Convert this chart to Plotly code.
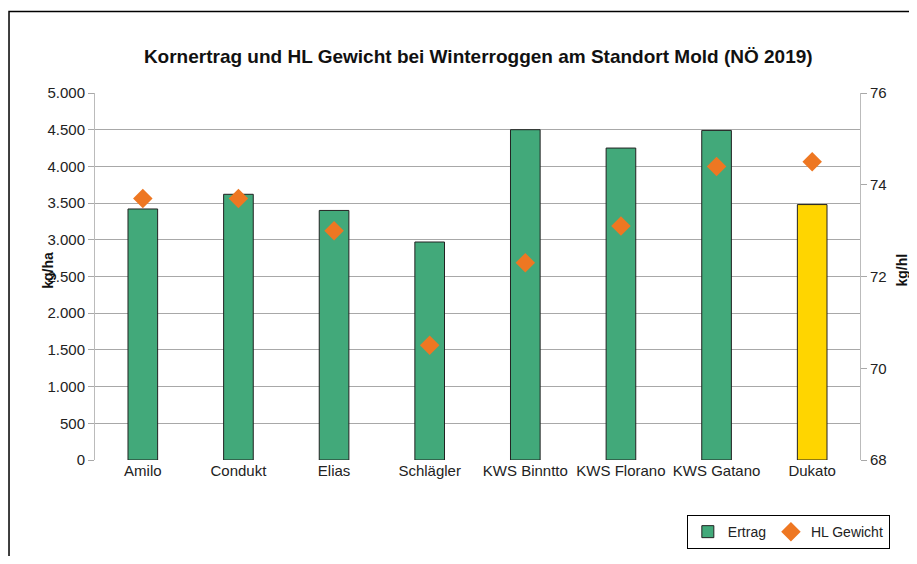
import plotly.graph_objects as go

sorten = ["Amilo", "Condukt", "Elias", "Schlägler", "KWS Binntto",
          "KWS Florano", "KWS Gatano", "Dukato"]
ertrag = [3420, 3620, 3400, 2970, 4500, 4250, 4490, 3480]
hl_gewicht = [73.7, 73.7, 73.0, 70.5, 72.3, 73.1, 74.4, 74.5]

bar_colors = ["#42A97A"] * 7 + ["#FFD500"]
font = "Liberation Sans, Arial, sans-serif"

fig = go.Figure()

fig.add_trace(go.Bar(
    x=sorten, y=ertrag, name="Ertrag",
    marker=dict(color=bar_colors, line=dict(color="#222222", width=1)),
    width=0.31,
))

fig.add_trace(go.Scatter(
    x=sorten, y=hl_gewicht, name="HL Gewicht", mode="markers",
    marker=dict(symbol="diamond", size=15, color="#EE7722"),
    yaxis="y2",
))

# outer chart frame (cut off at the right / bottom like the original)
fig.add_shape(type="rect", xref="paper", yref="paper",
              x0=-0.1124, x1=1.2, y0=-0.4, y1=1.222,
              line=dict(color="#000000", width=1.5))

# axis titles as annotations so they can sit close to the tick labels
fig.add_annotation(text="<b>kg/ha</b>", textangle=-90, showarrow=False,
                   xref="paper", yref="paper", x=-0.0615, y=0.518,
                   xanchor="center", yanchor="middle",
                   font=dict(family=font, size=14, color="#111111"))
fig.add_annotation(text="<b>kg/hl</b>", textangle=-90, showarrow=False,
                   xref="paper", yref="paper", x=1.0545, y=0.518,
                   xanchor="center", yanchor="middle",
                   font=dict(family=font, size=14, color="#111111"))

fig.update_layout(
    title=dict(
        text="<b>Kornertrag und HL Gewicht bei Winterroggen am Standort Mold (NÖ 2019)</b>",
        xref="paper", x=0.501, xanchor="center", y=0.9124, yanchor="middle",
        font=dict(family=font, size=19, color="#111111"),
    ),
    separators=",.",
    font=dict(family=font, size=15, color="#222222"),
    plot_bgcolor="white",
    paper_bgcolor="white",
    width=901, height=548,
    margin=dict(l=87, r=49, t=85, b=96, autoexpand=False),
    showlegend=True,
    legend=dict(
        orientation="h", x=1.039, xanchor="right", y=-0.15, yanchor="top",
        bordercolor="#000000", borderwidth=1,
        font=dict(size=14), itemwidth=30,
    ),
    xaxis=dict(
        showline=False, ticks="", showgrid=False, automargin=False,
        tickfont=dict(size=15),
    ),
    yaxis=dict(
        range=[0, 5000], dtick=500, tickformat=",.0f",
        showgrid=True, gridcolor="#A8A8A8", gridwidth=1,
        showline=True, linecolor="#BBBBBB", automargin=False,
        ticks="outside", ticklen=6, tickcolor="#A8A8A8",
        tickfont=dict(size=15),
        zeroline=False,
    ),
    yaxis2=dict(
        range=[68, 76], dtick=2, overlaying="y", side="right",
        showgrid=False, showline=True, linecolor="#BBBBBB", automargin=False,
        ticks="outside", ticklen=6, tickcolor="#A8A8A8",
        tickfont=dict(size=15),
        zeroline=False,
    ),
)

fig.write_html("out.html")
